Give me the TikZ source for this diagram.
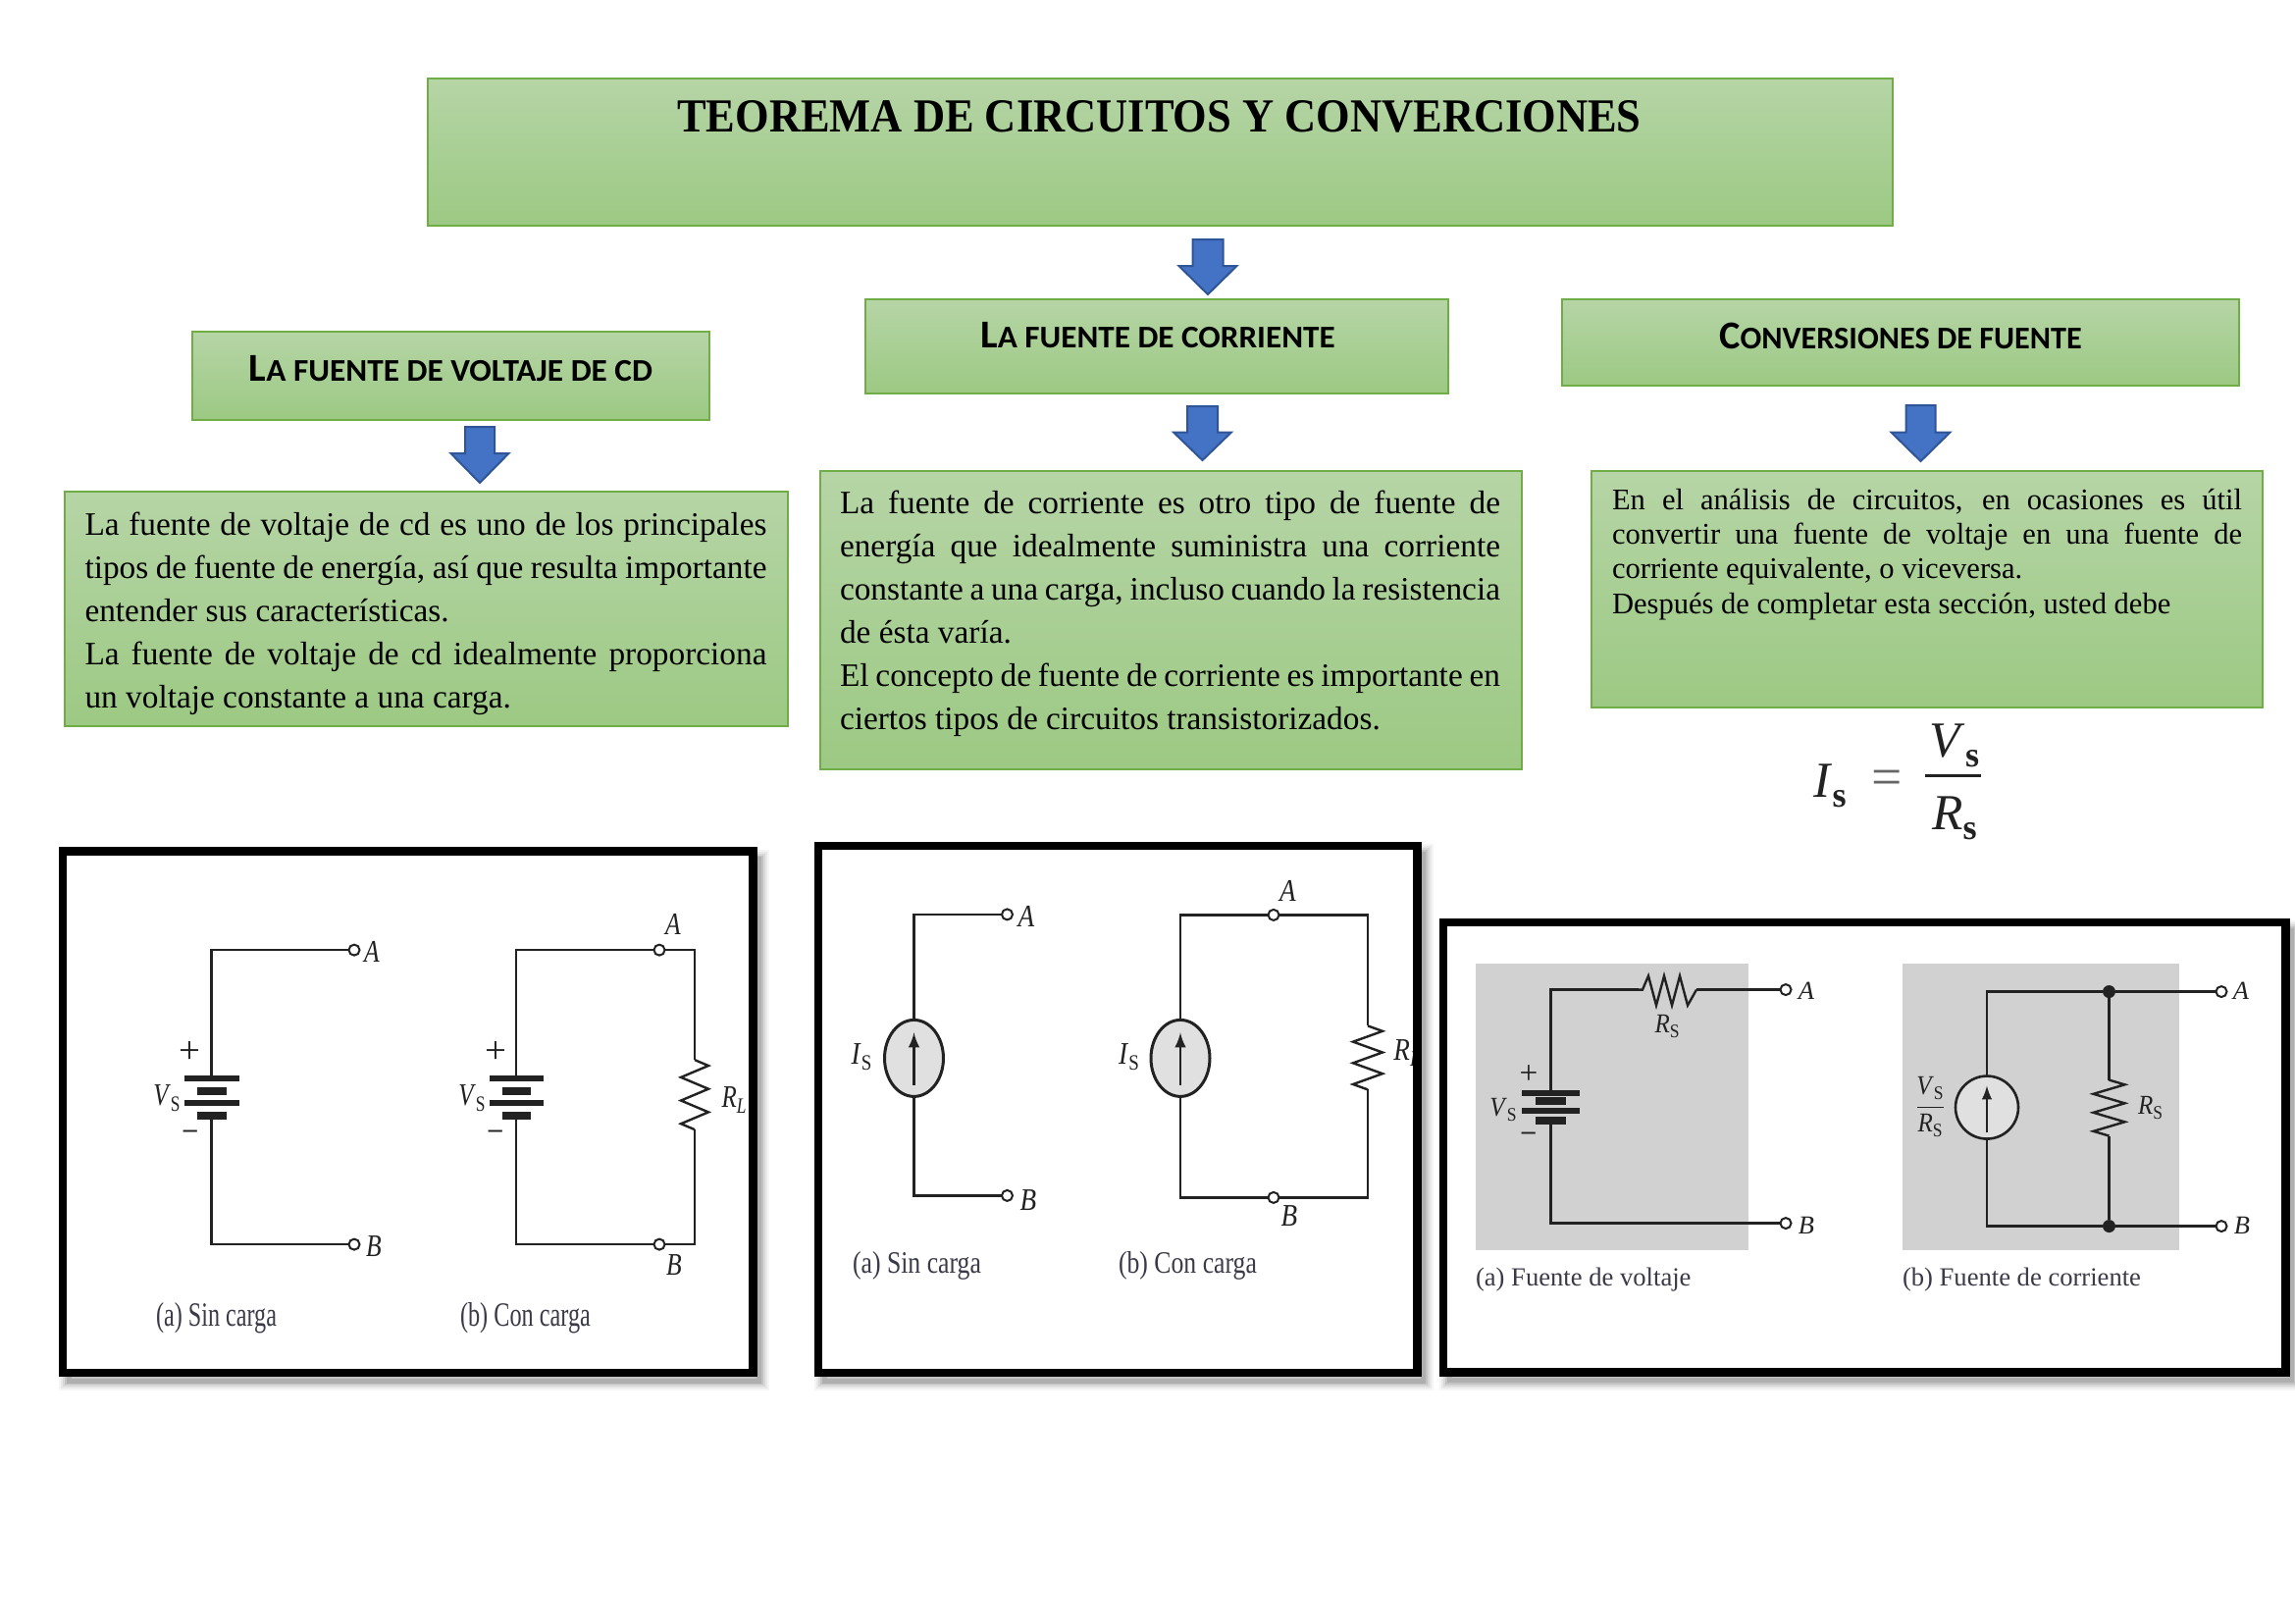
\documentclass[tikz,border=0pt]{standalone}
\usepackage{fontspec}
\usepackage{graphicx}
\usetikzlibrary{shapes.geometric}
\setmainfont{Liberation Serif}
\newfontfamily\hdfont{Carlito}
\newlength\pxl \setlength\pxl{0.36pt}
\definecolor{gtop}{HTML}{B6D5A6}
\definecolor{gbot}{HTML}{9CC983}
\definecolor{gline}{HTML}{70AD47}
\definecolor{arrfill}{HTML}{4472C4}
\definecolor{arrline}{HTML}{2F5597}
\definecolor{ink}{HTML}{222222}
\definecolor{capink}{HTML}{3A3A48}
\tikzset{
  gbox/.style={draw=gline,line width=2*\pxl,top color=gtop,bottom color=gbot,inner sep=0pt,outer sep=0pt},
  blockarrow/.style={fill=arrfill,draw=arrline,line width=2*\pxl,line join=miter},
  para/.style={anchor=north west,inner sep=0pt,outer sep=0pt,align=left,text=black},
  wire/.style={draw=ink,line width=2.4*\pxl,line join=miter},
  termnode/.style={circle,draw=ink,fill=white,line width=2*\pxl,minimum size=11*\pxl,inner sep=0pt,outer sep=0pt},
  dotnode/.style={circle,fill=ink,minimum size=13*\pxl,inner sep=0pt,outer sep=0pt},
  plate/.style={fill=ink,inner sep=0pt,outer sep=0pt,minimum height=6*\pxl},
  shortplate/.style={fill=ink,inner sep=0pt,outer sep=0pt,minimum height=8*\pxl},
  source/.style={ellipse,draw=ink,fill=black!12,line width=3*\pxl,inner sep=0pt,outer sep=0pt},
  framefill/.style={fill=white,inner sep=0pt,outer sep=0pt},
  frameline/.style={draw=black,line width=8.4*\pxl,line join=miter},
  grayzone/.style={fill=black!18,inner sep=0pt,outer sep=0pt},
  lab/.style={inner sep=0pt,outer sep=0pt,text=ink},
  capt/.style={inner sep=0pt,outer sep=0pt,anchor=base west,text=capink},
}
\newcommand\jl[2]{\makebox[#1\pxl][s]{#2}}
\newcommand\fs[1]{\fontsize{#1}{#1}\selectfont}
\newcommand\hd[3]{\scalebox{#1}[1]{\hdfont\bfseries\fs{14.5}#2\fs{11.6}#3}}
% rectangle by corners
\newcommand\gb[5]{\node[gbox,minimum width={(#4-#2)*\pxl},minimum height={(#5-#3)*\pxl}] (#1) at ({(#2+#4)/2},{(#3+#5)/2}) {};}
\newcommand\gz[5]{\node[grayzone,minimum width={(#4-#2)*\pxl},minimum height={(#5-#3)*\pxl}] (#1) at ({(#2+#4)/2},{(#3+#5)/2}) {};}
\newcommand\fr[5]{%
  \foreach \s/\o in {20/.04,16/.05,12/.07,8/.09,5/.10}{\draw[black,opacity=\o,line width=\s*\pxl] (#2+6,#3+8) rectangle (#4+6,#5+8);}
  \node[framefill,minimum width={(#4-#2)*\pxl},minimum height={(#5-#3)*\pxl}] (#1) at ({(#2+#4)/2},{(#3+#5)/2}) {};}
% block arrow: x, top, head start, tip, head half width, shaft half width
\newcommand\ar[6]{\draw[blockarrow] (#1-#6,#2) -- (#1+#6,#2) -- (#1+#6,#3) -- (#1+#5,#3) -- (#1,#4) -- (#1-#5,#3) -- (#1-#6,#3) -- cycle;}
% label: name,x,y,size,xscale,text
\newcommand\cl[6]{\node[lab] (#1) at (#2,#3) {\fs{#4}\scalebox{#5}[1]{#6}};}
\newcommand\sbs[3]{\textit{#1}\raisebox{-.4ex}{\fs{#3}#2}}
% caption: name,x,baseline y,width,height,text
\newcommand\cpt[6]{\node[capt] (#1) at (#2,#3) {\resizebox{#4\pxl}{#5\pxl}{#6}};}
% battery: prefix,x,y1,y2,y3,y4,long,short
\newcommand\bat[8]{%
  \node[plate,minimum width={#7*\pxl}] (#1a) at (#2,#3) {};
  \node[shortplate,minimum width={#8*\pxl}] (#1b) at (#2,#4) {};
  \node[plate,minimum width={#7*\pxl}] (#1c) at (#2,#5) {};
  \node[shortplate,minimum width={#8*\pxl}] (#1d) at (#2,#6) {};}
% vertical resistor polyline: x ytop ybot amp
\newcommand\zv[4]{\pgfmathsetmacro\hh{(#3-#2)/12}\draw[wire] (#1,#2) -- ++(#4,\hh) -- ++(-2*#4,2*\hh) -- ++(2*#4,2*\hh) -- ++(-2*#4,2*\hh) -- ++(2*#4,2*\hh) -- ++(-2*#4,2*\hh) -- ++(#4,\hh);}
\begin{document}
\begin{tikzpicture}[x=0.36pt,y=-0.36pt]
\useasboundingbox (0,0) rectangle (2339,1654);
\fill[white] (0,0) rectangle (2339,1654);

% ---- green boxes
\gb{title}{435.5}{79.5}{1928.5}{230}
\gb{hA}{196}{337.5}{723}{428}
\gb{hB}{882}{304.5}{1476}{400.5}
\gb{hC}{1591.5}{305}{2282}{392.5}
\gb{tA}{65.5}{501}{802.5}{740}
\gb{tB}{835.5}{479.5}{1551}{783.5}
\gb{tC}{1622}{480}{2306}{721}

\node[lab,text=black] (titletxt) at (1181.5,119) {\fs{17.4}\scalebox{.92}[1]{\bfseries TEOREMA DE CIRCUITOS Y CONVERCIONES}};
\node[lab,text=black] (hAt) at (459.5,376) {\hd{1.033}{L}{A FUENTE DE VOLTAJE DE CD}};
\node[lab,text=black] (hBt) at (1180,342) {\hd{1.03}{L}{A FUENTE DE CORRIENTE}};
\node[lab,text=black] (hCt) at (1937,342) {\hd{1}{C}{ONVERSIONES DE FUENTE}};

\ar{1231}{244}{271}{300}{29.5}{15.5}
\ar{489}{435}{462}{492}{29.5}{15}
\ar{1225.5}{414}{440.5}{469}{29.5}{15.5}
\ar{1957.5}{413}{440.5}{470}{30}{15}

\node[para,font=\fontsize{12}{15.85}\selectfont] (tAt) at (86.5,522) {%
\jl{695}{La fuente de voltaje de cd es uno de los principales}\\
\jl{695}{tipos de fuente de energía, así que resulta importante}\\
entender sus características.\\
\jl{695}{La fuente de voltaje de cd idealmente proporciona}\\
un voltaje constante a una carga.};

\node[para,font=\fontsize{12}{15.85}\selectfont] (tBt) at (856,500) {%
\jl{673}{La fuente de corriente es otro tipo de fuente de}\\
\jl{673}{energía que idealmente suministra una corriente}\\
\jl{673}{constante a una carga, incluso cuando la resistencia}\\
de ésta varía.\\
\jl{673}{El concepto de fuente de corriente es importante en}\\
ciertos tipos de circuitos transistorizados.};

\node[para,font=\fontsize{11}{12.7}\selectfont] (tCt) at (1643,498) {%
\jl{642}{En el análisis de circuitos, en ocasiones es útil}\\
\jl{642}{convertir una fuente de voltaje en una fuente de}\\
corriente equivalente, o viceversa.\\
Después de completar esta sección, usted debe};

% ---- formula
\node[lab] (fI) at (1865,801) {\fs{18.5}\sbs{I}{\bfseries s}{13}};
\node[lab,text=black!60] (fEq) at (1923,798) {\fs{20}=};
\node[lab] (fV) at (1992,760) {\fs{18.5}\sbs{V}{\bfseries s}{13}};
\node[lab] (fR) at (1992,834) {\fs{18.5}\sbs{R}{\bfseries s}{13}};
\coordinate (fb1) at (1962,790);
\coordinate (fb2) at (2018.5,790);
\draw[wire,line width=3*\pxl] (fb1) -- (fb2);

% ---- frame 1
\fr{fA}{64}{867.5}{767.5}{1399}
\begin{scope}[yshift=-0.4pt]
\bat{ba}{215.5}{1098}{1110.5}{1123}{1135.6}{56}{30}
\node[termnode] (aA) at (361,967) {};
\node[termnode] (aB) at (361,1267) {};
\draw[wire] (baa.north) |- (aA.west);
\draw[wire] (bad.south) |- (aB.west);
\cl{ap}{193}{1071}{14}{1}{+}
\cl{am}{194}{1155}{10}{1}{\textbf{–}}
\cl{aV}{170}{1118}{11.5}{.78}{\sbs{V}{S}{8}}
\cl{aLA}{379}{969}{11.5}{.8}{\textit{A}}
\cl{aLB}{381}{1269}{11.5}{.8}{\textit{B}}
\cpt{acap}{159}{1350}{123}{24}{(a) Sin carga}

\bat{bb}{526}{1098}{1110.5}{1123}{1135.6}{55}{29}
\node[termnode] (bA) at (672,967) {};
\node[termnode] (bB) at (672,1267) {};
\coordinate (bR1) at (708,1079);
\coordinate (bR2) at (708,1150);
\draw[wire] (bba.north) |- (bA.west);
\draw[wire] (bbd.south) |- (bB.west);
\draw[wire] (bA.east) -| (bR1);
\draw[wire] (bB.east) -| (bR2);
\zv{708}{1079}{1150}{14}
\cl{bp}{505}{1071}{14}{1}{+}
\cl{bm}{505}{1155}{10}{1}{\textbf{–}}
\cl{bV}{481}{1118}{11.5}{.78}{\sbs{V}{S}{8}}
\cl{bLA}{686}{941}{11.5}{.8}{\textit{A}}
\cl{bLB}{687}{1288}{11.5}{.8}{\textit{B}}
\cl{bRL}{748}{1120}{11.5}{.78}{\sbs{R}{\textit{L}}{8}}
\cpt{bcap}{469}{1350}{133}{24}{(b) Con carga}
\end{scope}
\draw[frameline] (fA.south west) rectangle (fA.north east);

% ---- frame 2
\fr{fB}{834}{862}{1444.5}{1399}
\begin{scope}[yshift=-0.5pt]
\node[source,minimum width=60*\pxl,minimum height=78*\pxl] (cS) at (931.5,1077) {};
\node[termnode] (cA) at (1026.5,930.5) {};
\node[termnode] (cB) at (1026.5,1217) {};
\draw[wire] (cS.north) |- (cA.west);
\draw[wire] (cS.south) |- (cB.west);
\coordinate (cAr1) at (931.5,1104.5);
\coordinate (cAr2) at (931.5,1051);
\draw[wire,-latex] (cAr1) -- (cAr2);
\cl{cI}{878}{1076}{11.5}{.85}{\sbs{I}{S}{8}}
\cl{cLA}{1046}{933}{11.5}{.85}{\textit{A}}
\cl{cLB}{1048}{1222}{11.5}{.85}{\textit{B}}
\cpt{ccap}{869}{1296}{131}{22}{(a) Sin carga}

\node[source,minimum width=60*\pxl,minimum height=78*\pxl] (dS) at (1203,1077) {};
\node[termnode] (dA) at (1298,931) {};
\node[termnode] (dB) at (1298,1219) {};
\coordinate (dR1) at (1394,1044);
\coordinate (dR2) at (1394,1109);
\draw[wire] (dS.north) |- (dA.west);
\draw[wire] (dS.south) |- (dB.west);
\draw[wire] (dA.east) -| (dR1);
\draw[wire] (dB.east) -| (dR2);
\zv{1394}{1044}{1109}{15}
\coordinate (dAr1) at (1203,1104.5);
\coordinate (dAr2) at (1203,1051);
\draw[wire,-latex] (dAr1) -- (dAr2);
\cl{dI}{1150.5}{1076}{11.5}{.85}{\sbs{I}{S}{8}}
\cl{dLA}{1312.5}{906.5}{11.5}{.85}{\textit{A}}
\cl{dLB}{1314}{1238}{11.5}{.85}{\textit{B}}
\cl{dRL}{1434}{1072}{11.5}{.85}{\sbs{R}{\textit{L}}{8}}
\cpt{dcap}{1140}{1296}{141}{22}{(b) Con carga}
\end{scope}
\draw[frameline] (fB.south west) rectangle (fB.north east);

% ---- frame 3
\fr{fC}{1471}{940}{2329.5}{1398.5}
\gz{zA}{1503.5}{982}{1782}{1274}
\gz{zB}{1938.5}{982}{2221}{1274}
\begin{scope}[yshift=-0.2pt]
\bat{eb}{1580.5}{1113}{1121.5}{1131}{1141}{59}{31}
\node[termnode] (eA) at (1820,1008) {};
\node[termnode] (eB) at (1820,1246) {};
\coordinate (eR1) at (1670,1008);
\coordinate (eR2) at (1729,1008);
\draw[wire] (eba.north) |- (eR1);
\draw[wire] (eR1) -- ++(4,0) -- ++(6,-14) -- ++(8,30) -- ++(8,-30) -- ++(8,30) -- ++(8,-30) -- ++(8,30) -- (eR2);
\draw[wire] (eR2) -- (eA.west);
\draw[wire] (ebd.south) |- (eB.west);
\cl{ep}{1558}{1095}{12}{1}{+}
\cl{em}{1558}{1157}{10}{1}{\textbf{–}}
\cl{eV}{1532}{1130}{10}{.9}{\sbs{V}{S}{7}}
\cl{eRs}{1699}{1045}{10}{.9}{\sbs{R}{S}{7}}
\cl{eLA}{1841}{1009}{9.5}{1}{\textit{A}}
\cl{eLB}{1841}{1248}{9.5}{1}{\textit{B}}
\cpt{ecap}{1504}{1310}{219.5}{18.5}{(a) Fuente de voltaje}

\node[source,minimum width=64*\pxl,minimum height=64*\pxl,line width=2.6*\pxl] (gS) at (2025,1128) {};
\node[dotnode] (gT) at (2149.5,1010) {};
\node[dotnode] (gD) at (2149.5,1249) {};
\node[termnode] (gA) at (2264,1010) {};
\node[termnode] (gB) at (2264,1249) {};
\coordinate (gR1) at (2149.5,1100);
\coordinate (gR2) at (2149.5,1157);
\draw[wire] (gS.north) |- (gT.west);
\draw[wire] (gS.south) |- (gD.west);
\draw[wire] (gT.east) -- (gA.west);
\draw[wire] (gD.east) -- (gB.west);
\draw[wire] (gT.south) -- (gR1);
\draw[wire] (gD.north) -- (gR2);
\zv{2149.5}{1100}{1157}{16}
\coordinate (gAr1) at (2025,1153);
\coordinate (gAr2) at (2025,1106);
\draw[wire,-latex,line width=2*\pxl] (gAr1) -- (gAr2);
\cl{gfV}{1967}{1108}{10}{.9}{\sbs{V}{S}{7}}
\cl{gfR}{1967}{1146}{10}{.9}{\sbs{R}{S}{7}}
\coordinate (gb1) at (1954,1128);
\coordinate (gb2) at (1981,1128);
\draw[wire,line width=1.6*\pxl] (gb1) -- (gb2);
\cl{gRs}{2191.5}{1128}{10}{.9}{\sbs{R}{S}{7}}
\cl{gLA}{2284}{1009}{9.5}{1}{\textit{A}}
\cl{gLB}{2285}{1248}{9.5}{1}{\textit{B}}
\cpt{gcap}{1939}{1310}{243}{18.5}{(b) Fuente de corriente}
\end{scope}
\draw[frameline] (fC.south west) rectangle (fC.north east);
\end{tikzpicture}
\end{document}
